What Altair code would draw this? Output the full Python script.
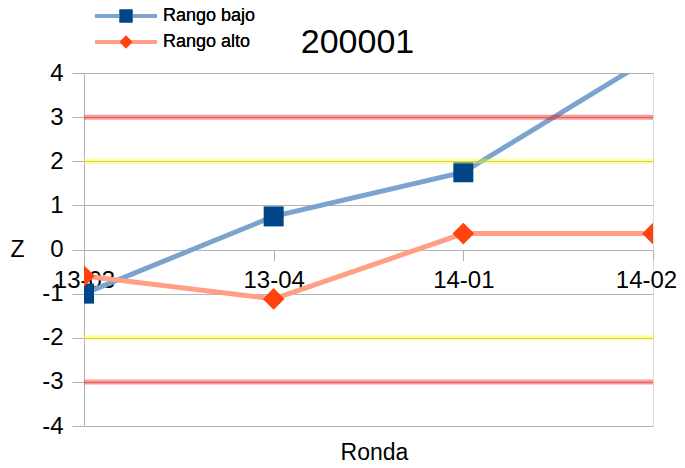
import altair as alt
import pandas as pd

categories = ["13-03", "13-04", "14-01", "14-02"]
rango_bajo = [-1.0, 0.75, 1.75, 4.37]
rango_alto = [-0.6, -1.12, 0.36, 0.36]
series = ["Rango bajo", "Rango alto"]
line_colors = ["#7ba3cf", "#ff9f85"]
marker_colors = ["#004586", "#ff420e"]
marker_shapes = ["square", "diamond"]

ref_values = [3, -3, 2, -2]
ref_colors = ["#ff0000", "#ff0000", "#ffff00", "#ffff00"]

rows = []
for c, v in zip(categories, rango_bajo):
    rows.append({"ronda": c, "z": v, "serie": series[0], "serie_m": series[0]})
for c, v in zip(categories, rango_alto):
    rows.append({"ronda": c, "z": v, "serie": series[1], "serie_m": series[1]})
df = pd.DataFrame(rows)
refs = pd.DataFrame({"z": ref_values, "c": ref_colors})

FONT = "Liberation Sans"
GRID = "#b3b3b3"

x_enc = alt.X(
    "ronda:N",
    sort=categories,
    scale=alt.Scale(type="point", padding=0, domain=categories),
    axis=alt.Axis(
        title="Ronda",
        offset=-176.5,
        domain=False,
        grid=False,
        ticks=True,
        tickSize=11,
        tickColor=GRID,
        labelAngle=0,
        labelFontSize=24,
        labelPadding=8,
        labelFont=FONT,
        labelColor="#000000",
        labelOverlap=False,
        labelBound=False,
        labelOffset={"condition": {"test": "datum.value === '14-02'", "value": -7}, "value": 0},
        titleFont=FONT,
        titleFontSize=23,
        titleFontWeight="normal",
        titleColor="#000000",
        titleX=290,
        titleY=210,
        titleAlign="center",
        titleBaseline="alphabetic",
    ),
)
y_enc = alt.Y(
    "z:Q",
    scale=alt.Scale(domain=[-4, 4], nice=False, zero=False),
    axis=alt.Axis(
        title="Z",
        values=[-4, -3, -2, -1, 0, 1, 2, 3, 4],
        labelExpr="'' + datum.value",
        grid=True,
        gridColor=GRID,
        domainColor=GRID,
        tickColor=GRID,
        tickSize=12,
        labelFontSize=24,
        labelPadding=9,
        labelFont=FONT,
        labelColor="#000000",
        titleFont=FONT,
        titleFontSize=23,
        titleFontWeight="normal",
        titleColor="#000000",
        titleAngle=0,
        titleX=-67,
        titleY=176,
        titleAlign="center",
        titleBaseline="middle",
    ),
)

LEG_X = 33
LEG_Y = -66

stroke_enc = alt.Stroke(
    "serie:N",
    scale=alt.Scale(domain=series, range=line_colors),
    legend=alt.Legend(
        title=None,
        orient="none",
        legendX=LEG_X,
        legendY=LEG_Y,
        symbolType="M-4.77,0H4.77",
        symbolSize=169,
        symbolStrokeWidth=4,
        symbolFillColor="transparent",
        labelFontSize=18,
        labelFont=FONT,
        labelColor="#000000",
        labelOffset=28,
        rowPadding=8,
        padding=0,
    ),
)
marker_legend = alt.Legend(
    title=None,
    orient="none",
    legendX=LEG_X,
    legendY=LEG_Y,
    symbolSize=169,
    symbolStrokeWidth=0,
    labelFontSize=18,
    labelFont=FONT,
    labelOpacity=0,
    labelOffset=28,
    rowPadding=8,
    padding=0,
)
fill_enc = alt.Fill(
    "serie_m:N",
    scale=alt.Scale(domain=series, range=marker_colors),
    legend=marker_legend,
)
shape_enc = alt.Shape(
    "serie_m:N",
    scale=alt.Scale(domain=series, range=marker_shapes),
    legend=marker_legend,
)

base = alt.Chart(df)
layers = []
for i, s in enumerate(series):
    layers.append(
        base.transform_filter(alt.datum.serie == s)
        .mark_line(strokeWidth=5, clip=True)
        .encode(x=x_enc, y=y_enc, stroke=stroke_enc)
    )
    layers.append(
        base.transform_filter(alt.datum.serie == s)
        .mark_point(filled=True, opacity=1, strokeWidth=0, clip=True)
        .encode(
            x=x_enc,
            y=y_enc,
            fill=fill_enc,
            shape=shape_enc,
            size=alt.value(400 if i == 0 else 470),
        )
    )

ref_layer = (
    alt.Chart(refs)
    .mark_rule(strokeWidth=5, opacity=0.4)
    .encode(y=alt.Y("z:Q"), color=alt.Color("c:N", scale=None, legend=None))
)
layers.append(ref_layer)

chart = (
    alt.layer(*layers)
    .resolve_legend(stroke="independent", fill="independent", shape="independent")
    .properties(
        width=569,
        height=353,
        autosize=alt.AutoSizeParams(type="none"),
        padding={"left": 76, "top": 65, "right": 24, "bottom": 34},
        title=alt.TitleParams(
            "200001",
            fontSize=34,
            font=FONT,
            fontWeight="normal",
            color="#000000",
            anchor="middle",
            frame="group",
            dx=-11,
            dy=80,
            offset=0,
            baseline="alphabetic",
        ),
    )
    .configure_view(stroke=GRID, strokeWidth=1)
    .configure(background="white")
)

chart.save("out.html", embed_options={"renderer": "svg", "actions": False})
